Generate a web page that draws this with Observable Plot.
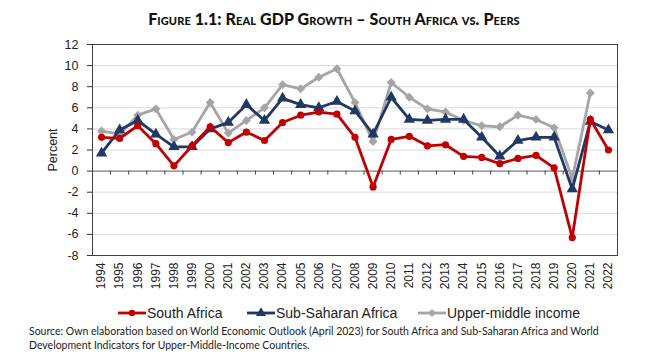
<!DOCTYPE html>
<html><head><meta charset="utf-8">
<script src="https://cdn.jsdelivr.net/npm/d3@7"></script>
<script src="https://cdn.jsdelivr.net/npm/@observablehq/plot@0.6"></script>
<style>
body{margin:0;background:#fff;width:654px;height:357px;position:relative;overflow:hidden;font-family:Lato,sans-serif}
#title{position:absolute;top:9px;left:0;width:668px;text-align:center;font-family:Lato,sans-serif;font-weight:900;font-size:16px;font-variant:small-caps;color:#111;letter-spacing:0.1px}
#chart{position:absolute;top:32px;left:0}
#legend{position:absolute;top:305px;left:0;width:654px;height:18px;font-family:"Liberation Sans",Arial,sans-serif;font-size:14px;color:#222}
#legend .item{position:absolute;top:0;display:flex;align-items:center;gap:1px;white-space:nowrap}
#caption{position:absolute;top:324px;left:29px;width:620px;font-family:Lato,sans-serif;font-size:10.5px;line-height:14px;color:#222}
</style></head>
<body>
<div id="title"></div>
<div id="chart"></div>
<div id="legend"></div>
<div id="caption"></div>
<script>
const titleText = "Figure 1.1: Real GDP Growth – South Africa vs. Peers";
const captionText = "Source: Own elaboration based on World Economic Outlook (April 2023) for South Africa and Sub-Saharan Africa and World Development Indicators for Upper-Middle-Income Countries.";
const yLabel = "Percent";
const years = [1994,1995,1996,1997,1998,1999,2000,2001,2002,2003,2004,2005,2006,2007,2008,2009,2010,2011,2012,2013,2014,2015,2016,2017,2018,2019,2020,2021,2022];
const yTicks = [-8,-6,-4,-2,0,2,4,6,8,10,12];
const seriesNames = ["South Africa","Sub-Saharan Africa","Upper-middle income"];
const southAfrica = [3.2,3.1,4.3,2.6,0.5,2.4,4.2,2.7,3.7,2.9,4.6,5.3,5.6,5.4,3.2,-1.5,3.0,3.3,2.4,2.5,1.4,1.3,0.7,1.2,1.5,0.3,-6.3,4.9,2.0];
const subSaharan = [1.7,3.9,4.8,3.5,2.3,2.3,4.0,4.6,6.3,4.8,6.9,6.3,6.0,6.6,5.7,3.5,7.0,4.9,4.8,4.9,4.9,3.2,1.4,2.9,3.2,3.2,-1.7,4.7,3.9];
const upperMiddle = [3.8,3.5,5.3,5.9,3.0,3.7,6.5,3.6,4.8,6.0,8.2,7.8,8.9,9.7,6.5,2.8,8.4,7.0,5.9,5.6,4.8,4.3,4.2,5.3,4.9,4.1,-0.7,7.4,null];
const colors = ["#C00000","#1F3864","#A5A5A5"];
const symbols = ["circle","triangle","diamond2"];
const radii = [3.6,4.2,4.0];
const legendLeft = [118,247,418];

document.getElementById("title").textContent = titleText;
document.getElementById("caption").textContent = captionText;

const seriesValues = [southAfrica, subSaharan, upperMiddle];
const series = seriesNames.map((name,k)=>({name, color:colors[k], symbol:symbols[k], r:radii[k],
  data: years.map((y,i)=>({year:y, value:seriesValues[k][i]})).filter(d=>d.value!=null)}));
const boundaries = years.slice(0,-1).map(y=>y+0.5);

const drawOrder = [2,1,0];
const seriesMarks = [];
for (const k of drawOrder) {
  const s = series[k];
  seriesMarks.push(Plot.line(s.data,{x:"year",y:"value",stroke:s.color,strokeWidth:2.8}));
  seriesMarks.push(Plot.dot(s.data,{x:"year",y:"value",fill:s.color,symbol:s.symbol,r:s.r}));
}

const chart = Plot.plot({
  width:654, height:268, marginLeft:92, marginRight:37, marginTop:12, marginBottom:45,
  style:{fontFamily:"'Liberation Sans', Arial, sans-serif", fontSize:"12.5px", color:"#222", background:"white", overflow:"visible"},
  x:{type:"linear", domain:[1993.5,2022.5]},
  y:{domain:[-8,12]},
  marks:[
    Plot.gridY(yTicks,{stroke:"#d9d9d9", strokeOpacity:1}),
    Plot.ruleY([0],{stroke:"#868686", strokeWidth:1.3}),
    Plot.ruleX(boundaries,{y1:0, y2:-0.38, stroke:"#444"}),
    Plot.axisY(yTicks,{tickSize:5, tickPadding:9, fontSize:12.5, tickFormat:d=>String(d), label:yLabel, labelAnchor:"center", labelOffset:44, labelArrow:false, stroke:"#333"}),
    Plot.axisX(years,{tickSize:0, tickPadding:7, tickRotate:-90, fontSize:12, tickFormat:d=>String(d), label:null}),
    ...seriesMarks,
    Plot.frame({stroke:"#404040"})
  ]
});
document.getElementById("chart").appendChild(chart);

const legend = document.getElementById("legend");
series.forEach((s,k)=>{
  const item = document.createElement("div");
  item.className = "item";
  item.style.left = legendLeft[k] + "px";
  const ns = "http://www.w3.org/2000/svg";
  const svg = document.createElementNS(ns,"svg");
  svg.setAttribute("width",28); svg.setAttribute("height",12);
  const line = document.createElementNS(ns,"line");
  line.setAttribute("x1",0); line.setAttribute("x2",28); line.setAttribute("y1",6); line.setAttribute("y2",6);
  line.setAttribute("stroke",s.color); line.setAttribute("stroke-width",2.8);
  svg.appendChild(line);
  const symMap = {circle:d3.symbolCircle, triangle:d3.symbolTriangle, diamond2:d3.symbolDiamond2};
  const p = document.createElementNS(ns,"path");
  p.setAttribute("d", d3.symbol(symMap[s.symbol], Math.PI*s.r*s.r*0.8)());
  p.setAttribute("transform","translate(14,6)");
  p.setAttribute("fill",s.color);
  svg.appendChild(p);
  const t = document.createElement("span");
  t.textContent = s.name;
  item.appendChild(svg); item.appendChild(t);
  legend.appendChild(item);
});
</script>
</body></html>
